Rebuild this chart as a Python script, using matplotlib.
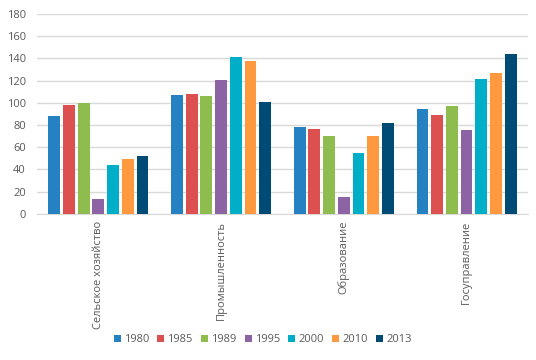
import matplotlib
matplotlib.use('Agg')
import matplotlib.pyplot as plt
import numpy as np

# Categories and years
categories = ['Сельское хозяйство', 'Промышленность', 'Образование', 'Госуправление']
years = ['1980', '1985', '1989', '1995', '2000', '2010', '2013']

# Values per year, one per category
v1980 = [88, 107, 78, 94.5]
v1985 = [98, 108, 76.5, 89]
v1989 = [100, 106, 70, 97]
v1995 = [13, 120.5, 15.5, 75.5]
v2000 = [44, 141, 55, 121.5]
v2010 = [49.5, 137.5, 70, 127]
v2013 = [52, 101, 82, 144]
series = [v1980, v1985, v1989, v1995, v2000, v2010, v2013]

colors = ['#2681C2', '#DD5050', '#8FBC4F', '#8C64A4', '#00AEC7', '#FF993F', '#004B76']

plt.rcParams['font.family'] = ['Open Sans', 'DejaVu Sans']

fig = plt.figure(figsize=(5.36, 3.6), dpi=100)
ax = fig.add_axes([0.069, 0.406, 0.916, 0.555])

x = np.arange(len(categories))
n = len(series)
slot = 0.84 / n
for i, vals in enumerate(series):
    offs = (i - (n - 1) / 2) * slot
    ax.bar(x + offs, vals, width=slot * 0.8, color=colors[i], label=years[i], zorder=3)

ax.set_xlim(-0.5, len(categories) - 0.5)
ax.set_ylim(0, 180)
ax.set_yticks(np.arange(0, 181, 20))
ax.yaxis.grid(True, color='#D9D9D9', linewidth=1, zorder=0)
for s in ['top', 'right', 'left']:
    ax.spines[s].set_visible(False)
ax.spines['bottom'].set_color('#D9D9D9')
ax.tick_params(axis='both', length=0, labelsize=8, labelcolor='#595959')
ax.tick_params(axis='y', pad=8)
ax.set_xticks(x)
ax.set_xticklabels(categories, rotation=90, va='top', ha='center', fontsize=8)
ax.tick_params(axis='x', pad=5)

fig.legend(loc='center', bbox_to_anchor=(0.49, 0.056), ncol=n, frameon=False,
           fontsize=8, handlelength=0.63, handleheight=0.63, handletextpad=0.27,
           columnspacing=0.75, labelcolor='#595959')

fig.savefig('out.png', dpi=100)
